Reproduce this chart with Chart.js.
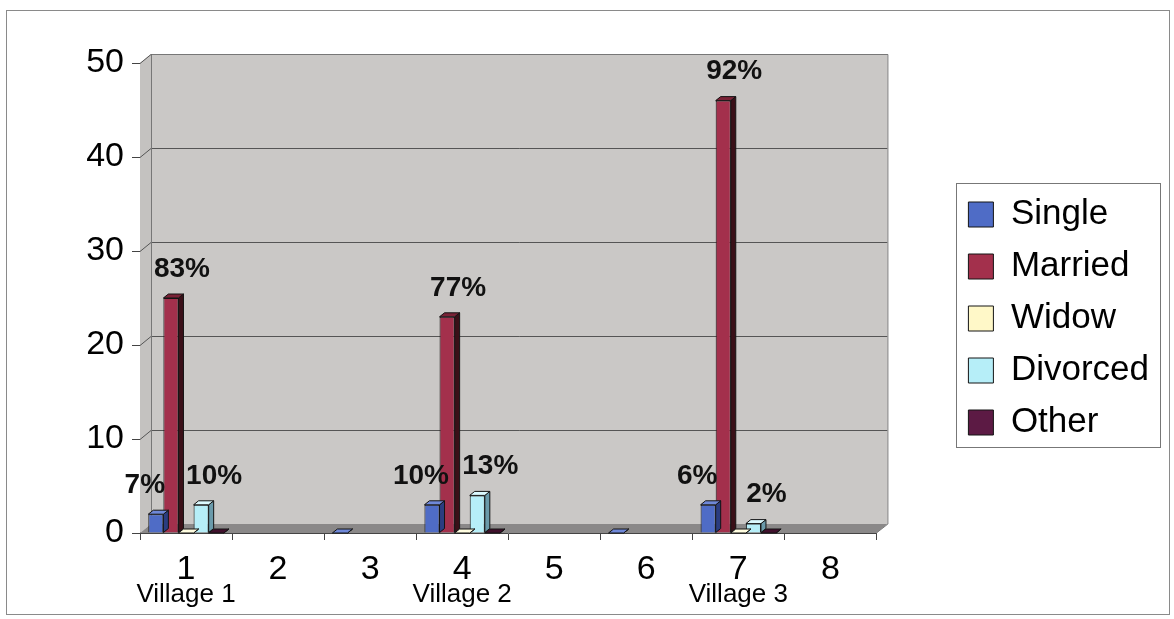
<!DOCTYPE html>
<html>
<head>
<meta charset="utf-8">
<script src="https://cdn.jsdelivr.net/npm/chart.js@4.4.0/dist/chart.umd.min.js"></script>
<style>
  html, body { margin: 0; padding: 0; background: #fff; }
  #wrap { width: 1174px; height: 619px; }
</style>
</head>
<body>
<div id="wrap"><canvas id="status-chart" width="1174" height="619"></canvas></div>
<script>
var categories = ['1', '2', '3', '4', '5', '6', '7', '8'];
var villageLabels = ['Village 1', '', '', 'Village 2', '', '', 'Village 3', ''];
var yTicks = [0, 10, 20, 30, 40, 50];

var single   = [2, null, 0, 3, null, 0, 3, null];
var married  = [25, null, null, 23, null, null, 46, null];
var widow    = [0, null, null, 0, null, null, 0, null];
var divorced = [3, null, null, 4, null, null, 1, null];
var other    = [0, null, null, 0, null, null, 0, null];

var singlePct   = ['7%', '', '', '10%', '', '', '6%', ''];
var marriedPct  = ['83%', '', '', '77%', '', '', '92%', ''];
var divorcedPct = ['10%', '', '', '13%', '', '', '2%', ''];

// depth of the walls and of the bars
var DX = 11, DY = -9;
var BX = 5, BY = -4;

Chart.defaults.font.family = '"Liberation Sans", Arial, sans-serif';
Chart.defaults.color = '#000';

function poly(ctx, pts) {
  ctx.beginPath();
  ctx.moveTo(pts[0][0], pts[0][1]);
  for (var i = 1; i < pts.length; i++) ctx.lineTo(pts[i][0], pts[i][1]);
  ctx.closePath();
}

var frame3d = {
  id: 'frame3d',
  beforeDraw: function (chart) {
    var ctx = chart.ctx;
    ctx.save();
    ctx.fillStyle = '#fff';
    ctx.fillRect(0, 0, chart.width, chart.height);
    ctx.strokeStyle = '#8a8a8a';
    ctx.lineWidth = 1;
    ctx.strokeRect(6.5, 10.5, 1163, 604);
    ctx.restore();
  },
  beforeDatasetsDraw: function (chart) {
    var a = chart.chartArea, ctx = chart.ctx, ys = chart.scales.y;
    var L = a.left, R = a.right, T = a.top, B = a.bottom;
    ctx.save();
    ctx.lineWidth = 1;
    // side wall
    ctx.fillStyle = '#c4c2c0';
    poly(ctx, [[L, T], [L + DX, T + DY], [L + DX, B + DY], [L, B]]);
    ctx.fill();
    // back wall
    ctx.fillStyle = '#cac8c6';
    ctx.fillRect(L + DX, T + DY, R - L, B - T);
    // floor
    ctx.fillStyle = '#8a8888';
    poly(ctx, [[L, B], [L + DX, B + DY], [R + DX, B + DY], [R, B]]);
    ctx.fill();
    // grid lines on walls
    ctx.strokeStyle = '#555';
    yTicks.forEach(function (v) {
      if (v === 0) return;
      var y = Math.round(ys.getPixelForValue(v)) + 0.5;
      ctx.beginPath();
      ctx.moveTo(L, y);
      ctx.lineTo(L + DX, y + DY);
      ctx.lineTo(R + DX, y + DY);
      ctx.stroke();
    });
    ctx.strokeStyle = '#777';
    ctx.beginPath();
    ctx.moveTo(L + DX + 0.5, B + DY);
    ctx.lineTo(L + DX + 0.5, T + DY + 0.5);
    ctx.lineTo(R + DX + 0.5, T + DY + 0.5);
    ctx.lineTo(R + DX + 0.5, B + DY);
    ctx.lineTo(R, B);
    ctx.stroke();
    ctx.restore();
  },
  afterDatasetsDraw: function (chart) {
    var ctx = chart.ctx;
    ctx.save();
    ctx.lineWidth = 1;
    ctx.strokeStyle = '#141414';
    chart.data.datasets.forEach(function (ds, i) {
      var meta = chart.getDatasetMeta(i);
      meta.data.forEach(function (bar, j) {
        if (ds.data[j] === null) return;
        var p = bar.getProps(['x', 'y', 'base', 'width'], true);
        var l = p.x - p.width / 2, r = p.x + p.width / 2;
        ctx.fillStyle = ds.sideColor;
        poly(ctx, [[r, p.y], [r + BX, p.y + BY], [r + BX, p.base + BY], [r, p.base]]);
        ctx.fill(); ctx.stroke();
        ctx.fillStyle = ds.topColor;
        poly(ctx, [[l, p.y], [l + BX, p.y + BY], [r + BX, p.y + BY], [r, p.y]]);
        ctx.fill(); ctx.stroke();
      });
    });
    // percentage labels
    ctx.fillStyle = '#111';
    ctx.font = 'bold 28px "Liberation Sans", Arial, sans-serif';
    ctx.textAlign = 'center';
    ctx.textBaseline = 'middle';
    chart.data.datasets.forEach(function (ds, i) {
      if (!ds.pct) return;
      var meta = chart.getDatasetMeta(i);
      meta.data.forEach(function (bar, j) {
        if (!ds.pct[j]) return;
        ctx.fillText(ds.pct[j], bar.x + ds.pctShift, bar.y - 29);
      });
    });
    ctx.restore();
  },
  afterDraw: function (chart) {
    var lg = chart.legend, hb = lg.legendHitBoxes, ctx = chart.ctx;
    if (!hb || !hb.length) return;
    var last = hb[hb.length - 1];
    var x0 = hb[0].left - 12, x1 = hb[0].left + 192;
    var y0 = hb[0].top - 14, y1 = last.top + last.height + 7;
    ctx.save();
    ctx.strokeStyle = '#777';
    ctx.lineWidth = 1;
    ctx.strokeRect(Math.round(x0) + 0.5, Math.round(y0) + 0.5, Math.round(x1 - x0), Math.round(y1 - y0));
    ctx.restore();
  }
};

var ctx = document.getElementById('status-chart').getContext('2d');
var chart = new Chart(ctx, {
  type: 'bar',
  data: {
    labels: categories,
    datasets: [
      { label: 'Single', data: single, backgroundColor: '#4f6cc6', sideColor: '#2b3d80', topColor: '#6f88d8', pct: singlePct, pctShift: -11 },
      { label: 'Married', data: married, backgroundColor: '#a3304c', sideColor: '#3a1018', topColor: '#7a2236', pct: marriedPct, pctShift: 11 },
      { label: 'Widow', data: widow, backgroundColor: '#fff8c8', sideColor: '#b8b088', topColor: '#fffde0' },
      { label: 'Divorced', data: divorced, backgroundColor: '#b6eef8', sideColor: '#6a9aaa', topColor: '#dcfaff', pct: divorcedPct, pctShift: 13 },
      { label: 'Other', data: other, backgroundColor: '#5c1a44', sideColor: '#2a0a1c', topColor: '#40102c' }
    ].map(function (d) {
      d.borderColor = '#141414';
      d.borderWidth = 1;
      d.xAxisID = 'x';
      d.yAxisID = 'y';
      d.categoryPercentage = 0.82;
      d.barPercentage = 1;
      return d;
    })
  },
  options: {
    responsive: false,
    animation: false,
    layout: { padding: { top: 23, bottom: 5, left: 0, right: 15 } },
    plugins: {
      tooltip: { enabled: false },
      legend: {
        position: 'right',
        maxWidth: 400,
        labels: { font: { size: 35 }, color: '#000', boxWidth: 25, boxHeight: 25, padding: 17 }
      }
    },
    scales: {
      y: {
        min: 0, max: 50,
        afterBuildTicks: function (s) { s.ticks = yTicks.map(function (v) { return { value: v }; }); },
        ticks: { font: { size: 34 }, color: '#000', padding: 8 },
        grid: { drawOnChartArea: false, tickLength: 8, color: '#444' },
        border: { display: true, color: '#444' },
        afterFit: function (s) { s.width = 140; }
      },
      x: {
        offset: true,
        grid: { offset: true, drawOnChartArea: false, tickLength: 7, color: '#444' },
        border: { display: true, color: '#444' },
        ticks: { font: { size: 34 }, color: '#000', padding: 9, autoSkip: false, maxRotation: 0 },
        afterFit: function (s) { s.height = 50; }
      },
      x2: {
        type: 'category', labels: villageLabels, position: 'bottom', offset: true,
        grid: { display: false, drawTicks: false },
        border: { display: false },
        ticks: { font: { size: 26 }, color: '#000', padding: -4, autoSkip: false, maxRotation: 0 },
        afterFit: function (s) { s.height = 31; }
      },
      topGap: {
        type: 'linear', axis: 'x', position: 'top',
        grid: { display: false, drawTicks: false }, border: { display: false }, ticks: { display: false },
        afterFit: function (s) { s.height = 40; }
      },
      rightGap: {
        type: 'linear', axis: 'y', position: 'right',
        grid: { display: false, drawTicks: false }, border: { display: false }, ticks: { display: false },
        afterFit: function (s) { s.width = 75; }
      }
    }
  },
  plugins: [frame3d]
});
</script>
</body>
</html>
